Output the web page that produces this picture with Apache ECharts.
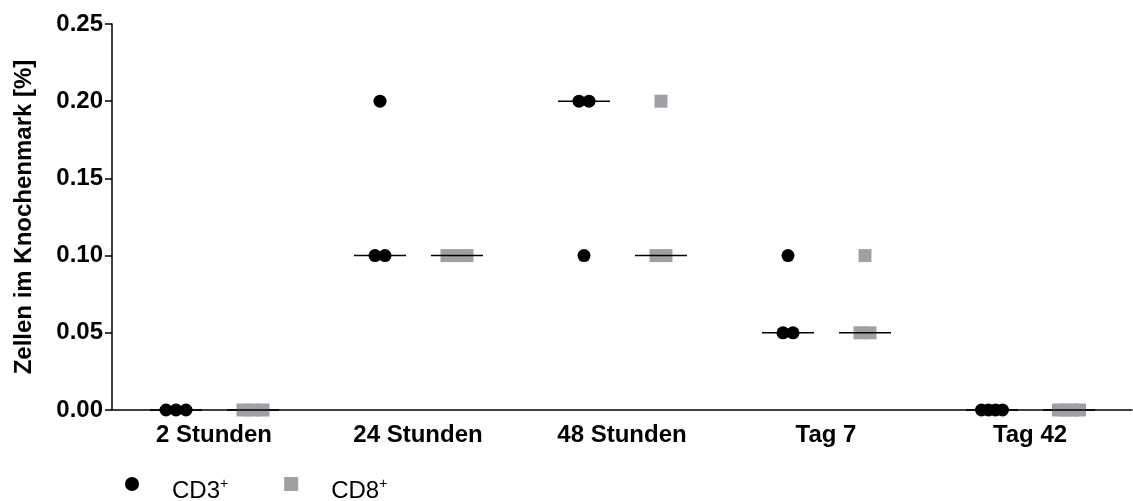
<!DOCTYPE html>
<html>
<head>
<meta charset="utf-8">
<script src="https://cdn.jsdelivr.net/npm/echarts@6/dist/echarts.min.js"></script>
<style>
html,body{margin:0;padding:0;background:#fff;}
#c{width:1133px;height:501px;}
</style>
</head>
<body>
<div id="c"></div>
<script>
var categories = ['2 Stunden', '24 Stunden', '48 Stunden', 'Tag 7', 'Tag 42'];
var cd3Values = [[0, 0, 0], [0.2, 0.1, 0.1], [0.2, 0.2, 0.1], [0.1, 0.05, 0.05], [0, 0, 0, 0]];
var cd8Values = [[0, 0, 0], [0.1, 0.1, 0.1], [0.2, 0.1, 0.1], [0.1, 0.05, 0.05], [0, 0, 0, 0]];
var yTicks = [0, 0.05, 0.10, 0.15, 0.20, 0.25];
var seriesNames = ['CD3', 'CD8'];

var GROUP_OFFSET = { CD3: -38, CD8: 39 };
var MAX_SPREAD = 21;
var BASE_SPACING = 10;
var FONT = 'Liberation Sans, Arial, Helvetica, sans-serif';

function median(arr) {
  var s = arr.slice().sort(function (a, b) { return a - b; });
  var n = s.length;
  return n % 2 ? s[(n - 1) / 2] : (s[n / 2 - 1] + s[n / 2]) / 2;
}

function buildPoints(values, offset) {
  var out = [];
  values.forEach(function (grp, ci) {
    var counts = {};
    grp.forEach(function (v) { counts[v] = (counts[v] || 0) + 1; });
    var seen = {};
    grp.forEach(function (v) {
      var n = counts[v];
      var k = seen[v] || 0;
      seen[v] = k + 1;
      var sp = n > 1 ? Math.min(BASE_SPACING, MAX_SPREAD / (n - 1)) : 0;
      var dx = offset + (k - (n - 1) / 2) * sp;
      out.push({ value: [ci, v], symbolOffset: [dx, 0] });
    });
  });
  return out;
}

function buildMedians(values) {
  return values.map(function (grp, ci) { return [ci, median(grp)]; });
}

function medianSeries(values, offset) {
  return {
    type: 'custom',
    z: 5,
    silent: true,
    data: buildMedians(values),
    renderItem: function (params, api) {
      var p = api.coord([api.value(0), api.value(1)]);
      var cx = p[0] + offset;
      return {
        type: 'line',
        shape: { x1: cx - 26, y1: p[1], x2: cx + 26, y2: p[1] },
        style: { stroke: '#000', lineWidth: 1.5 }
      };
    }
  };
}

var chart = echarts.init(document.getElementById('c'));
chart.setOption({
  animation: false,
  backgroundColor: '#fff',
  grid: { left: 112, right: 1, top: 24, bottom: 91, containLabel: false },
  legend: {
    data: [{ name: seriesNames[0], icon: 'circle' }, { name: seriesNames[1], icon: 'rect' }],
    left: 120,
    top: 472,
    itemWidth: 14,
    itemHeight: 14,
    itemGap: 56,
    formatter: function (n) { return n + '{sup|+}'; },
    textStyle: {
      fontFamily: FONT,
      fontSize: 24,
      color: '#000',
      padding: [14, 0, 0, 28],
      rich: {
        sup: { fontSize: 14, verticalAlign: 'top', padding: [0, 0, 14, 0], fontFamily: FONT, color: '#000' }
      }
    }
  },
  xAxis: {
    type: 'category',
    data: categories,
    boundaryGap: true,
    axisLine: { lineStyle: { color: '#000', width: 1.5 } },
    axisTick: { alignWithLabel: true, length: 7, lineStyle: { color: '#000', width: 1.5 } },
    axisLabel: {
      color: '#000', fontWeight: 'bold', fontSize: 24, margin: 13,
      fontFamily: FONT
    },
    splitLine: { show: false }
  },
  yAxis: {
    type: 'value',
    min: yTicks[0],
    max: yTicks[yTicks.length - 1],
    interval: 0.05,
    name: 'Zellen im Knochenmark [%]',
    nameLocation: 'middle',
    nameGap: 76,
    nameTextStyle: {
      color: '#000', fontWeight: 'bold', fontSize: 24,
      fontFamily: FONT
    },
    axisLine: { show: true, lineStyle: { color: '#000', width: 1.5 } },
    axisTick: { show: true, length: 7, lineStyle: { color: '#000', width: 1.5 } },
    axisLabel: {
      color: '#000', fontWeight: 'bold', fontSize: 24, margin: 9,
      fontFamily: FONT,
      formatter: function (v) { return v.toFixed(2); }
    },
    splitLine: { show: false }
  },
  series: [
    {
      name: seriesNames[0],
      type: 'scatter',
      symbol: 'circle',
      symbolSize: 13,
      clip: false,
      itemStyle: { color: '#000', opacity: 1 },
      data: buildPoints(cd3Values, GROUP_OFFSET.CD3),
      z: 3
    },
    {
      name: seriesNames[1],
      type: 'scatter',
      symbol: 'rect',
      symbolSize: 13,
      clip: false,
      itemStyle: { color: '#a0a0a4', opacity: 1 },
      data: buildPoints(cd8Values, GROUP_OFFSET.CD8),
      z: 3
    },
    medianSeries(cd3Values, GROUP_OFFSET.CD3),
    medianSeries(cd8Values, GROUP_OFFSET.CD8)
  ]
});
</script>
</body>
</html>
